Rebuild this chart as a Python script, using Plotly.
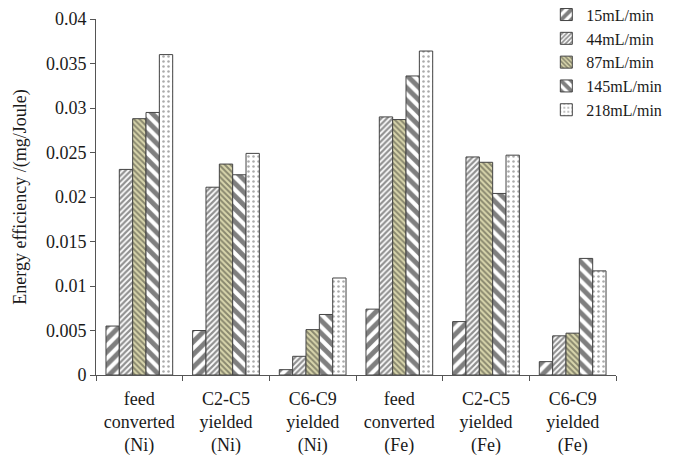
import plotly.graph_objects as go

categories = ["feed<br>converted<br>(Ni)", "C2-C5<br>yielded<br>(Ni)", "C6-C9<br>yielded<br>(Ni)",
              "feed<br>converted<br>(Fe)", "C2-C5<br>yielded<br>(Fe)", "C6-C9<br>yielded<br>(Fe)"]
series_names = ["15mL/min", "44mL/min", "87mL/min", "145mL/min", "218mL/min"]
v15 = [0.0055, 0.0050, 0.0006, 0.0074, 0.0060, 0.0015]
v44 = [0.0231, 0.0211, 0.0021, 0.0290, 0.0245, 0.0044]
v87 = [0.0288, 0.0237, 0.0051, 0.0287, 0.0239, 0.0047]
v145 = [0.0295, 0.0225, 0.0068, 0.0336, 0.0204, 0.0131]
v218 = [0.0360, 0.0249, 0.0109, 0.0364, 0.0247, 0.0117]
values = [v15, v44, v87, v145, v218]

patterns = [
    dict(shape="/", fgcolor="#000000", bgcolor="#ffffff", size=9, solidity=0.55),
    dict(shape="/", fgcolor="#222222", bgcolor="#ffffff", size=4, solidity=0.55),
    dict(shape="\\", fgcolor="#3a3a30", bgcolor="#d9d6ad", size=4, solidity=0.5),
    dict(shape="\\", fgcolor="#000000", bgcolor="#ffffff", size=9, solidity=0.55),
    dict(shape=".", fgcolor="#555555", bgcolor="#ffffff", size=5, solidity=0.2),
]

font = "Liberation Serif, Times New Roman, serif"
txt = "#1a1a1a"
fig = go.Figure()
for name, vals, pat in zip(series_names, values, patterns):
    fig.add_trace(go.Bar(
        x=categories, y=vals, name=name,
        marker=dict(color="#ffffff", pattern=pat, line=dict(color="#444444", width=1)),
    ))

# page body has an 8px default margin, so the figure is 8px smaller than the window
fig.update_layout(
    width=670, height=447,
    margin=dict(l=88, r=62, t=11, b=80, autoexpand=False),
    paper_bgcolor="white", plot_bgcolor="white",
    barmode="group", bargap=0.23, bargroupgap=0,
    font=dict(family=font, size=18, color=txt),
    showlegend=True,
    legend=dict(x=0.866, y=1.06, xanchor="left", yanchor="top", bgcolor="rgba(0,0,0,0)",
                font=dict(family=font, size=16, color=txt), tracegroupgap=0,
                itemwidth=30),
    xaxis=dict(showline=True, linecolor="#555555", linewidth=1, ticks="outside",
               tickson="boundaries", ticklen=5, tickcolor="#555555", automargin=False,
               ticklabelstandoff=7, tickangle=0,
               tickfont=dict(family=font, size=18, color=txt), showgrid=False),
    yaxis=dict(range=[0, 0.04], dtick=0.005, showline=True, linecolor="#555555", linewidth=1,
               ticks="outside", ticklen=5, tickcolor="#555555", showgrid=False, zeroline=False,
               automargin=False,
               tickfont=dict(family=font, size=18, color=txt),
               title=dict(text="Energy efficiency /(mg/Joule)", font=dict(family=font, size=18, color=txt),
                          standoff=14)),
)
fig.write_html("out.html")
